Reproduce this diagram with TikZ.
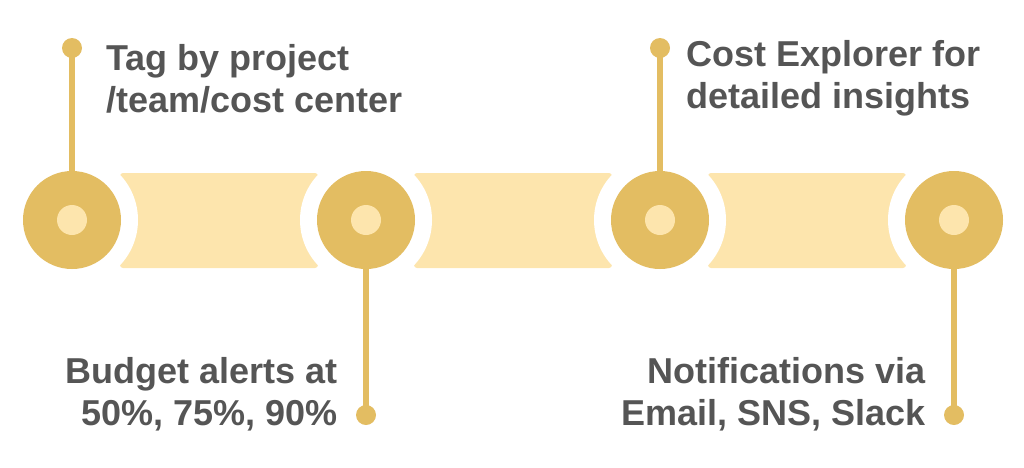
\documentclass[tikz,border=0pt]{standalone}
\usepackage{fontspec}
\setmainfont{Liberation Sans}
\definecolor{dk}{HTML}{E3BD62}
\definecolor{lt}{HTML}{FDE5AD}
\definecolor{tx}{HTML}{555555}
\begin{document}
\begin{tikzpicture}[x=1pt,y=-1pt,
  lbl/.style={inner sep=0pt,text=tx,font=\fontsize{36}{42}\selectfont\bfseries},
  stem/.style={draw=dk,line width=6pt}]
\useasboundingbox (0,0) rectangle (1024,467);
\foreach \a in {72,366,660}{
  \fill[lt,rounded corners=3pt] (\a+48,173) rectangle (\a+246,268);
}
\foreach \c in {72,366,660,954}{ \fill[white] (\c,220) circle (66); }
\coordinate (t1) at (72,48); \coordinate (t2) at (366,415);
\coordinate (t3) at (660,48); \coordinate (t4) at (954,415);
\node[circle,fill=dk,minimum size=98pt,inner sep=0pt] (c1) at (72,220) {};
\node[circle,fill=dk,minimum size=98pt,inner sep=0pt] (c2) at (366,220) {};
\node[circle,fill=dk,minimum size=98pt,inner sep=0pt] (c3) at (660,220) {};
\node[circle,fill=dk,minimum size=98pt,inner sep=0pt] (c4) at (954,220) {};
\draw[stem] (c1.center) -- (t1); \draw[stem] (c2.center) -- (t2);
\draw[stem] (c3.center) -- (t3); \draw[stem] (c4.center) -- (t4);
\foreach \n in {c1,c2,c3,c4}{ \fill[lt] (\n.center) circle (15); }
\foreach \n in {t1,t2,t3,t4}{ \fill[dk] (\n) circle (10); }
\node[lbl,anchor=base west] (a1) at (106,70) {Tag by project};
\node[lbl,anchor=base west] (a2) at (106,112) {/team/cost center};
\node[lbl,anchor=base east] (b1) at (338,383) {Budget alerts at};
\node[lbl,anchor=base east] (b2) at (338,425) {50\%, 75\%, 90\%};
\node[lbl,anchor=base west] (d1) at (686,66) {Cost Explorer for};
\node[lbl,anchor=base west] (d2) at (686,108) {detailed insights};
\node[lbl,anchor=base east] (e1) at (926,383) {Notifications via};
\node[lbl,anchor=base east] (e2) at (926,425) {Email, SNS, Slack};
\end{tikzpicture}
\end{document}
